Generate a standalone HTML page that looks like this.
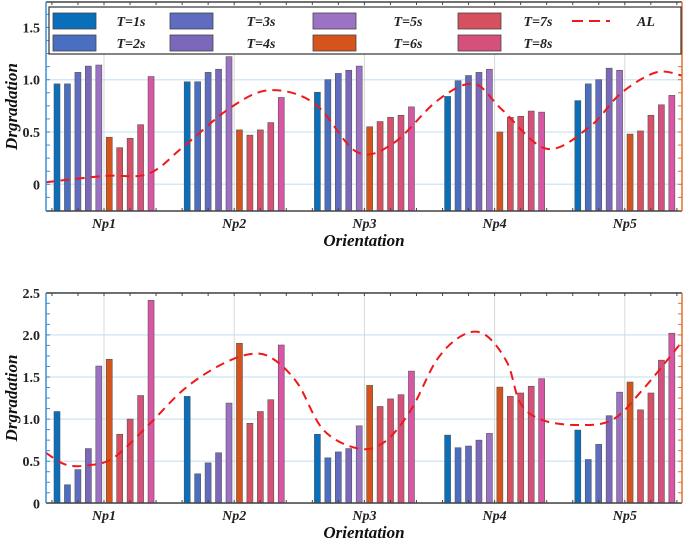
<!DOCTYPE html>
<html><head><meta charset="utf-8"><style>
body{margin:0;background:#fff}
svg{display:block;font-family:"Liberation Serif",serif}
</style></head><body>
<svg id="chart" width="685" height="539" viewBox="0 0 685 539" xmlns="http://www.w3.org/2000/svg"></svg>
<script>
const categories=["Np1","Np2","Np3","Np4","Np5"];
const seriesNames=["T=1s","T=2s","T=3s","T=4s","T=5s","T=6s","T=7s","T=8s","T=8s-b","T=8s-c"];
const colors=["#0a6fba","#4a6fc0","#5f6cc0","#7b68bb","#9b72c4","#d6541c","#d65060","#d6506a","#d6507c","#d955a5"];
const topValues=[
[0.96,0.96,1.07,1.13,1.14,0.45,0.35,0.44,0.57,1.03],
[0.98,0.98,1.07,1.10,1.22,0.52,0.47,0.52,0.59,0.83],
[0.88,1.00,1.06,1.09,1.13,0.55,0.60,0.64,0.66,0.74],
[0.84,0.99,1.04,1.07,1.10,0.50,0.64,0.65,0.70,0.69],
[0.80,0.96,1.00,1.11,1.09,0.48,0.51,0.66,0.76,0.85]];
const bottomValues=[
[1.09,0.22,0.40,0.65,1.63,1.71,0.82,1.00,1.28,2.41],
[1.27,0.35,0.48,0.60,1.19,1.90,0.95,1.09,1.23,1.88],
[0.82,0.54,0.61,0.65,0.92,1.40,1.15,1.24,1.29,1.57],
[0.81,0.66,0.68,0.75,0.83,1.38,1.27,1.31,1.39,1.48],
[0.87,0.52,0.70,1.04,1.32,1.44,1.11,1.31,1.70,2.02]];
const topAlX=[-0.447,0.006,0.34,0.61,0.98,1.28,1.62,1.94,2.22,2.56,2.84,3.06,3.40,3.73,3.97,4.24,4.44];
const topAlY=[0.02,0.08,0.10,0.36,0.74,0.90,0.77,0.31,0.39,0.80,0.96,0.71,0.34,0.55,0.87,1.07,1.04];
const botAlX=[-0.447,-0.296,-0.128,0.073,0.342,0.611,0.879,1.115,1.283,1.484,1.686,1.955,2.156,2.358,2.559,2.76,2.928,3.097,3.198,3.365,3.634,3.903,4.138,4.44];
const botAlY=[0.60,0.46,0.45,0.54,0.93,1.35,1.63,1.77,1.73,1.43,0.87,0.65,0.73,1.11,1.71,2.00,2.00,1.67,1.19,0.99,0.93,0.99,1.35,1.92];
const topTicks=["0","0.5","1.0","1.5"];
const botTicks=["0","0.5","1.0","1.5","2.0","2.5"];

const NS="http://www.w3.org/2000/svg";
const svg=document.getElementById('chart');
function el(tag,attrs,parent,text){const e=document.createElementNS(NS,tag);for(const k in attrs)e.setAttribute(k,attrs[k]);if(text!==undefined)e.textContent=text;(parent||svg).appendChild(e);return e;}
const L=46,R=682;
const xS=c=>104+c*130.2;
function smoothPath(xs,ys){let d="";const p=xs.map((x,i)=>[xS(x),ys[i]]);
 for(let i=0;i<p.length;i++){if(i==0){d+="M"+p[0][0]+","+p[0][1];continue;}
  const p0=p[Math.max(i-2,0)],p1=p[i-1],p2=p[i],p3=p[Math.min(i+1,p.length-1)];
  const c1=[p1[0]+(p2[0]-p0[0])/6,p1[1]+(p2[1]-p0[1])/6],c2=[p2[0]-(p3[0]-p1[0])/6,p2[1]-(p3[1]-p1[1])/6];
  d+=` C${c1[0]},${c1[1]} ${c2[0]},${c2[1]} ${p2[0]},${p2[1]}`;}
 return d;}
function panel(name,top,bottom,yS,yMin,ticks,tickStep,values,alX,alY){
 const g=el('g',{});
 
 
 ticks.forEach((t,i)=>{const y=yS(i*tickStep);
  const gl=el('line',{x1:L,x2:R,y1:y,y2:y,stroke:"#d6e8f5","stroke-width":1.5},g);
  
  
  const tl=el('text',{x:40,y:y+5,"text-anchor":"end","font-size":14,"font-weight":"bold",fill:"#222"},g,t);
  
  });
 categories.forEach((c,i)=>{const x=xS(i);
  const vl=el('line',{x1:x,x2:x,y1:top,y2:bottom,stroke:"#d8d8d8","stroke-width":1},g);
  
  
  const cl=el('text',{x:x,y:bottom+17,"text-anchor":"middle","font-size":14,"font-weight":"bold","font-style":"italic",fill:"#222"},g,c);
  
  
  values[i].forEach((v,j)=>{const bx=x-47+j*10.45-3;const y=yS(v);
   const b=el('rect',{x:bx,y:y,width:6,height:bottom-y,fill:colors[j],stroke:"#555","stroke-width":0.6},g);
   
   });});
 const al=el('path',{d:smoothPath(alX,alY.map(yS)),fill:"none",stroke:"#f01818","stroke-width":2,"stroke-dasharray":"9,6"},g);
 
 
 // axes
 el('line',{x1:L,x2:R,y1:top,y2:top,stroke:"#444","stroke-width":1.5},g);
 el('line',{x1:L,x2:R,y1:bottom,y2:bottom,stroke:"#444","stroke-width":1.5},g);
 el('line',{x1:L,x2:L,y1:top,y2:bottom,stroke:"#3a8fd6","stroke-width":1.5},g);
 el('line',{x1:R,x2:R,y1:top,y2:bottom,stroke:"#e07030","stroke-width":1.5},g);
 for(let v=yMin;v<=ticks.length*tickStep;v+=tickStep/4){const y=yS(v);if(y<top||y>bottom)continue;
  el('line',{x1:L,x2:L+4,y1:y,y2:y,stroke:"#3a8fd6","stroke-width":1},g);
  el('line',{x1:R-4,x2:R,y1:y,y2:y,stroke:"#e07030","stroke-width":1},g);}
 for(let c=-0.4;c<=4.45;c+=0.2){const x=xS(c);
  el('line',{x1:x,x2:x,y1:bottom,y2:bottom-3,stroke:"#444"},g);
  el('line',{x1:x,x2:x,y1:top,y2:top+3,stroke:"#444"},g);}
 const xt=el('text',{x:364,y:bottom+35,"text-anchor":"middle","font-size":17,"font-weight":"bold","font-style":"italic",fill:"#111"},g,"Orientation");
 
 
 const yt=el('text',{transform:`translate(17,${(top+bottom)/2}) rotate(-90)`,"text-anchor":"middle","font-size":17,"font-weight":"bold","font-style":"italic",fill:"#111"},g,"Drgradation");
 
 
}
panel('top-chart',2,211,v=>184.3-v*104.6,-0.25,topTicks,0.5,topValues,topAlX,topAlY);
panel('bottom-chart',293,503,v=>503.3-v*84.2,0,botTicks,0.5,bottomValues,botAlX,botAlY);
// legend
const lg=el('g',{});


el('rect',{x:49,y:7,width:632,height:47,fill:"#fff",stroke:"#333","stroke-width":1.2},lg);
const legendItems=[["T=1s",0,53,131,0],["T=2s",1,53,131,1],["T=3s",2,170,261,0],["T=4s",3,170,261,1],["T=5s",4,313,408,0],["T=6s",5,313,408,1],["T=7s",6,458,538,0],["T=8s",8,458,538,1]];
legendItems.forEach(it=>{const y=it[4]?35:13;
 const s=el('rect',{x:it[2],y:y,width:43,height:16,fill:colors[it[1]],stroke:"#444","stroke-width":0.8},lg);
 
 
 const t=el('text',{x:it[3],y:y+13,"text-anchor":"middle","font-size":14,"font-weight":"bold","font-style":"italic",fill:"#222"},lg,it[0]);
 
 });
const ld=el('line',{x1:572,x2:610,y1:21,y2:21,stroke:"#f01818","stroke-width":2,"stroke-dasharray":"11,6"},lg);


const lt=el('text',{x:646,y:26,"text-anchor":"middle","font-size":14,"font-weight":"bold","font-style":"italic",fill:"#222"},lg,"AL");


</script>
</body></html>
